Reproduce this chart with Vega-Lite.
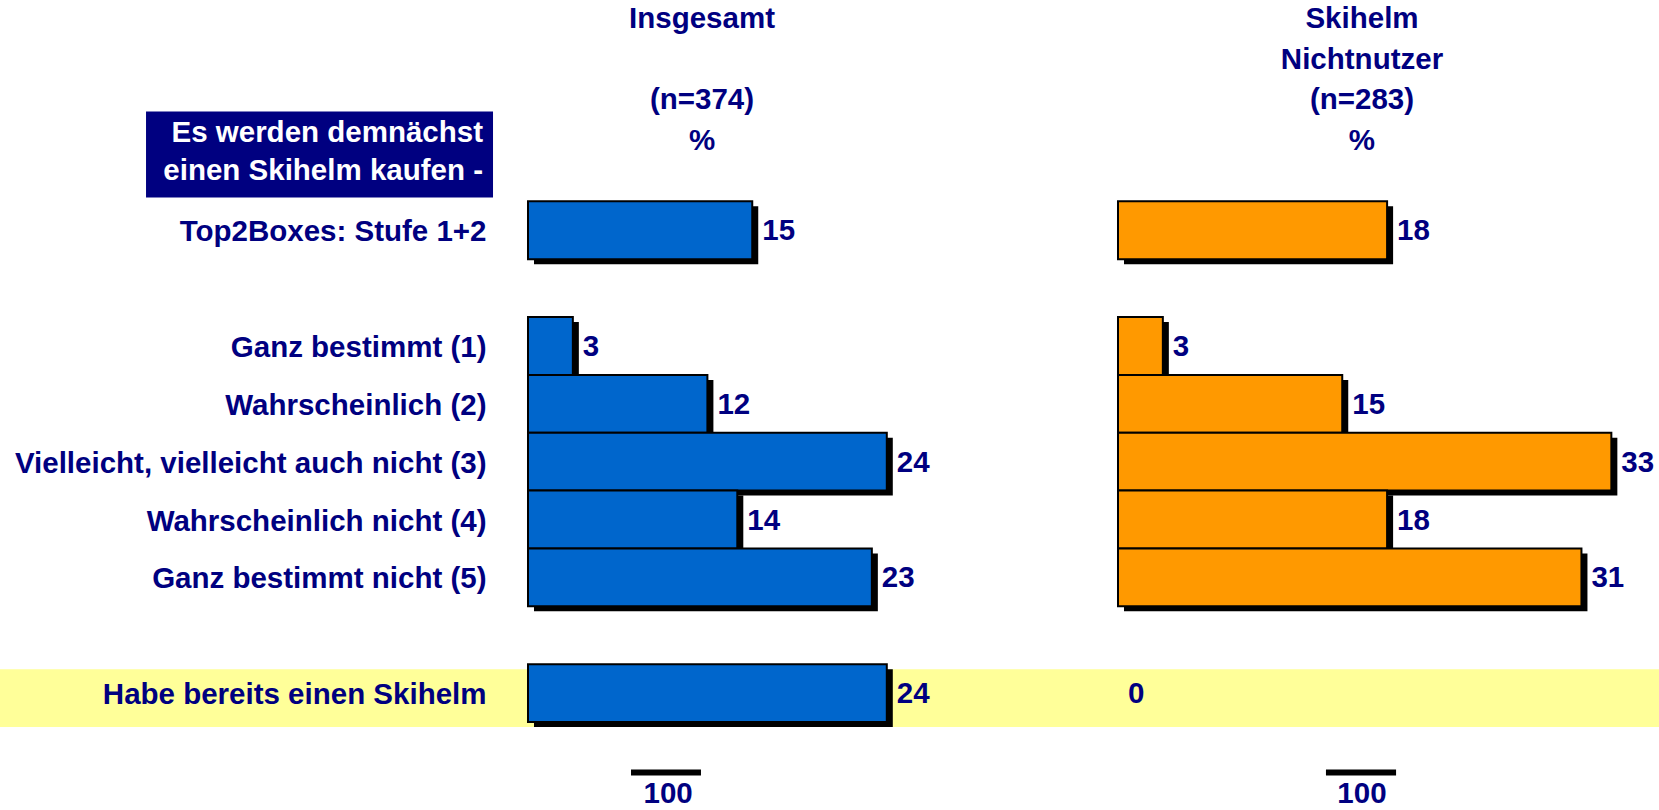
{
  "$schema": "https://vega.github.io/schema/vega-lite/v6.json",
  "width": 1659,
  "height": 810,
  "padding": 0,
  "autosize": {"type": "none"},
  "background": "white",
  "config": {
    "view": {"stroke": null},
    "text": {"font": "Liberation Sans", "fontWeight": "bold", "fontSize": 29.5, "color": "#000080"}
  },
  "datasets": {
    "bars": [
      {"panel": "Insgesamt", "row": "Top2Boxes: Stufe 1+2", "v": 15},
      {"panel": "Insgesamt", "row": "Ganz bestimmt (1)", "v": 3},
      {"panel": "Insgesamt", "row": "Wahrscheinlich (2)", "v": 12},
      {"panel": "Insgesamt", "row": "Vielleicht, vielleicht auch nicht (3)", "v": 24},
      {"panel": "Insgesamt", "row": "Wahrscheinlich nicht (4)", "v": 14},
      {"panel": "Insgesamt", "row": "Ganz bestimmt nicht (5)", "v": 23},
      {"panel": "Insgesamt", "row": "Habe bereits einen Skihelm", "v": 24},
      {"panel": "Skihelm Nichtnutzer", "row": "Top2Boxes: Stufe 1+2", "v": 18},
      {"panel": "Skihelm Nichtnutzer", "row": "Ganz bestimmt (1)", "v": 3},
      {"panel": "Skihelm Nichtnutzer", "row": "Wahrscheinlich (2)", "v": 15},
      {"panel": "Skihelm Nichtnutzer", "row": "Vielleicht, vielleicht auch nicht (3)", "v": 33},
      {"panel": "Skihelm Nichtnutzer", "row": "Wahrscheinlich nicht (4)", "v": 18},
      {"panel": "Skihelm Nichtnutzer", "row": "Ganz bestimmt nicht (5)", "v": 31},
      {"panel": "Skihelm Nichtnutzer", "row": "Habe bereits einen Skihelm", "v": 0}
    ],
    "heads": [
      {"panel": "Insgesamt", "part": "name", "text": "Insgesamt"},
      {"panel": "Insgesamt", "part": "base", "text": "(n=374)\n%"},
      {"panel": "Skihelm Nichtnutzer", "part": "name", "text": "Skihelm\nNichtnutzer"},
      {"panel": "Skihelm Nichtnutzer", "part": "base", "text": "(n=283)\n%"}
    ],
    "sums": [
      {"panel": "Insgesamt", "sum": 100},
      {"panel": "Skihelm Nichtnutzer", "sum": 100}
    ],
    "frage": [
      {"text": "Es werden demnächst\neinen Skihelm kaufen -"}
    ]
  },
  "encoding": {
    "y": {
      "field": "row",
      "type": "nominal",
      "sort": null,
      "scale": {
        "domain": ["_hdr", "_frage", "Top2Boxes: Stufe 1+2", "_gap1", "Ganz bestimmt (1)", "Wahrscheinlich (2)", "Vielleicht, vielleicht auch nicht (3)", "Wahrscheinlich nicht (4)", "Ganz bestimmt nicht (5)", "_gap2", "Habe bereits einen Skihelm", "_sum"],
        "paddingInner": 0,
        "paddingOuter": 1.0742,
        "align": 0.7398
      },
      "axis": {
        "orient": "left",
        "offset": -486,
        "domain": false,
        "ticks": false,
        "tickSize": 0,
        "grid": false,
        "labelPadding": 0,
        "labelLimit": 1000,
        "labelFont": "Liberation Sans",
        "labelFontWeight": "bold",
        "labelFontSize": 29.5,
        "labelColor": "#000080",
        "labelOffset": 2,
        "labelExpr": "indexof(datum.label, '_') == 0 ? '' : datum.label",
        "title": null,
        "zindex": 2
      }
    }
  },
  "layer": [
    {
      "data": {"name": "bars"},
      "transform": [{"filter": "datum.panel == 'Insgesamt' && datum.row == 'Habe bereits einen Skihelm'"}],
      "mark": {"type": "rect", "color": "#FFFF99", "yOffset": 5}
    },
    {
      "data": {"name": "bars"},
      "transform": [{"filter": "datum.panel == 'Insgesamt' && datum.v > 0"}],
      "mark": {"type": "bar", "color": "black", "xOffset": 6, "yOffset": 5},
      "encoding": {"x": {"field": "v", "type": "quantitative", "scale": {"domain": [-35.3177, 75.6522], "nice": false}, "axis": null}}
    },
    {
      "data": {"name": "bars"},
      "transform": [{"filter": "datum.panel == 'Insgesamt' && datum.v > 0"}],
      "mark": {"type": "bar", "color": "#0066CC", "stroke": "black", "strokeWidth": 2},
      "encoding": {"x": {"field": "v", "type": "quantitative", "scale": {"domain": [-35.3177, 75.6522], "nice": false}, "axis": null}}
    },
    {
      "data": {"name": "bars"},
      "transform": [{"filter": "datum.panel == 'Insgesamt'"}],
      "mark": {"type": "text", "align": "left", "baseline": "middle", "dx": 10, "dy": 1},
      "encoding": {
        "x": {"field": "v", "type": "quantitative", "scale": {"domain": [-35.3177, 75.6522], "nice": false}, "axis": null},
        "text": {"field": "v", "type": "quantitative"}
      }
    },
    {
      "data": {"name": "frage"},
      "mark": {"type": "bar", "color": "#000080", "height": 86, "yOffset": -18},
      "encoding": {
        "x": {"datum": -25.55, "type": "quantitative", "scale": {"domain": [-35.3177, 75.6522], "nice": false}, "axis": null},
        "x2": {"datum": -2.34},
        "y": {"datum": "_frage", "type": "nominal"}
      }
    },
    {
      "data": {"name": "frage"},
      "mark": {"type": "text", "align": "right", "baseline": "alphabetic", "lineBreak": "\n", "lineHeight": 38, "color": "white", "dy": -30},
      "encoding": {
        "x": {"datum": -3.01, "type": "quantitative", "scale": {"domain": [-35.3177, 75.6522], "nice": false}, "axis": null},
        "y": {"datum": "_frage", "type": "nominal"},
        "text": {"field": "text", "type": "nominal"}
      }
    },
    {
      "data": {"name": "heads"},
      "transform": [{"filter": "datum.panel == 'Insgesamt' && datum.part == 'name'"}],
      "mark": {"type": "text", "align": "center", "baseline": "alphabetic", "lineBreak": "\n", "lineHeight": 40.7, "dy": -86.6},
      "encoding": {
        "x": {"datum": 11.64, "type": "quantitative", "scale": {"domain": [-35.3177, 75.6522], "nice": false}, "axis": null},
        "y": {"datum": "_hdr", "type": "nominal"},
        "text": {"field": "text", "type": "nominal"}
      }
    },
    {
      "data": {"name": "heads"},
      "transform": [{"filter": "datum.panel == 'Insgesamt' && datum.part == 'base'"}],
      "mark": {"type": "text", "align": "center", "baseline": "alphabetic", "lineBreak": "\n", "lineHeight": 40.7, "dy": -5.2},
      "encoding": {
        "x": {"datum": 11.64, "type": "quantitative", "scale": {"domain": [-35.3177, 75.6522], "nice": false}, "axis": null},
        "y": {"datum": "_hdr", "type": "nominal"},
        "text": {"field": "text", "type": "nominal"}
      }
    },
    {
      "data": {"name": "sums"},
      "transform": [{"filter": "datum.panel == 'Insgesamt'"}],
      "mark": {"type": "rule", "color": "black", "strokeWidth": 6, "yOffset": 21.6},
      "encoding": {
        "x": {"datum": 6.89, "type": "quantitative", "scale": {"domain": [-35.3177, 75.6522], "nice": false}, "axis": null},
        "x2": {"datum": 11.57},
        "y": {"datum": "_sum", "type": "nominal"}
      }
    },
    {
      "data": {"name": "sums"},
      "transform": [{"filter": "datum.panel == 'Insgesamt'"}],
      "mark": {"type": "text", "align": "center", "baseline": "alphabetic", "dy": 52},
      "encoding": {
        "x": {"datum": 9.37, "type": "quantitative", "scale": {"domain": [-35.3177, 75.6522], "nice": false}, "axis": null},
        "y": {"datum": "_sum", "type": "nominal"},
        "text": {"field": "sum", "type": "quantitative"}
      }
    },
    {
      "data": {"name": "bars"},
      "transform": [{"filter": "datum.panel == 'Skihelm Nichtnutzer' && datum.v > 0"}],
      "mark": {"type": "bar", "color": "black", "xOffset": 6, "yOffset": 5},
      "encoding": {"x": {"field": "v", "type": "quantitative", "scale": {"domain": [-74.7826, 36.1873], "nice": false}, "axis": null}}
    },
    {
      "data": {"name": "bars"},
      "transform": [{"filter": "datum.panel == 'Skihelm Nichtnutzer' && datum.v > 0"}],
      "mark": {"type": "bar", "color": "#FF9900", "stroke": "black", "strokeWidth": 2},
      "encoding": {"x": {"field": "v", "type": "quantitative", "scale": {"domain": [-74.7826, 36.1873], "nice": false}, "axis": null}}
    },
    {
      "data": {"name": "bars"},
      "transform": [{"filter": "datum.panel == 'Skihelm Nichtnutzer'"}],
      "mark": {"type": "text", "align": "left", "baseline": "middle", "dx": 10, "dy": 1},
      "encoding": {
        "x": {"field": "v", "type": "quantitative", "scale": {"domain": [-74.7826, 36.1873], "nice": false}, "axis": null},
        "text": {"field": "v", "type": "quantitative"}
      }
    },
    {
      "data": {"name": "heads"},
      "transform": [{"filter": "datum.panel == 'Skihelm Nichtnutzer' && datum.part == 'name'"}],
      "mark": {"type": "text", "align": "center", "baseline": "alphabetic", "lineBreak": "\n", "lineHeight": 40.7, "dy": -86.6},
      "encoding": {
        "x": {"datum": 16.32, "type": "quantitative", "scale": {"domain": [-74.7826, 36.1873], "nice": false}, "axis": null},
        "y": {"datum": "_hdr", "type": "nominal"},
        "text": {"field": "text", "type": "nominal"}
      }
    },
    {
      "data": {"name": "heads"},
      "transform": [{"filter": "datum.panel == 'Skihelm Nichtnutzer' && datum.part == 'base'"}],
      "mark": {"type": "text", "align": "center", "baseline": "alphabetic", "lineBreak": "\n", "lineHeight": 40.7, "dy": -5.2},
      "encoding": {
        "x": {"datum": 16.32, "type": "quantitative", "scale": {"domain": [-74.7826, 36.1873], "nice": false}, "axis": null},
        "y": {"datum": "_hdr", "type": "nominal"},
        "text": {"field": "text", "type": "nominal"}
      }
    },
    {
      "data": {"name": "sums"},
      "transform": [{"filter": "datum.panel == 'Skihelm Nichtnutzer'"}],
      "mark": {"type": "rule", "color": "black", "strokeWidth": 6, "yOffset": 21.6},
      "encoding": {
        "x": {"datum": 13.91, "type": "quantitative", "scale": {"domain": [-74.7826, 36.1873], "nice": false}, "axis": null},
        "x2": {"datum": 18.6},
        "y": {"datum": "_sum", "type": "nominal"}
      }
    },
    {
      "data": {"name": "sums"},
      "transform": [{"filter": "datum.panel == 'Skihelm Nichtnutzer'"}],
      "mark": {"type": "text", "align": "center", "baseline": "alphabetic", "dy": 52},
      "encoding": {
        "x": {"datum": 16.32, "type": "quantitative", "scale": {"domain": [-74.7826, 36.1873], "nice": false}, "axis": null},
        "y": {"datum": "_sum", "type": "nominal"},
        "text": {"field": "sum", "type": "quantitative"}
      }
    }
  ],
  "resolve": {"scale": {"x": "independent"}}
}
